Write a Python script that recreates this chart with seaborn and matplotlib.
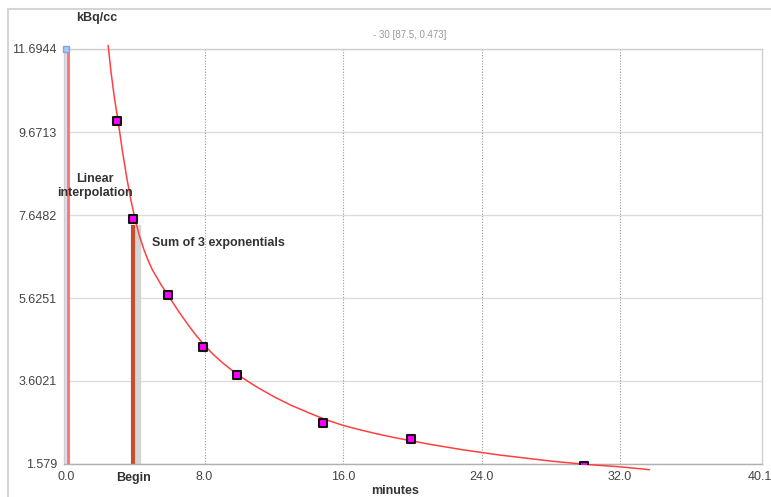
import matplotlib
matplotlib.use("Agg")
import matplotlib.pyplot as plt
import seaborn as sns
import pandas as pd
from matplotlib.patches import Rectangle

# measured samples (minutes, kBq/cc)
sample_t = [2.95, 3.87, 5.9, 7.9, 9.9, 14.85, 19.9, 29.9]
sample_v = [9.94, 7.56, 5.70, 4.44, 3.76, 2.59, 2.19, 1.54]

# fitted curve: sum of 3 exponentials
fit_t = [2.43, 2.6, 2.8, 3.0, 3.25, 3.5, 3.75, 4.0, 4.25, 4.5, 4.75, 5.0,
         5.5, 6.0, 6.5, 7.0, 7.5, 8.0, 8.5, 9.0, 9.5, 10.0, 11.0, 12.0, 13.0,
         14.0, 15.0, 16.0, 17.0, 18.0, 19.0, 20.0, 21.0, 22.0, 23.0, 24.0,
         25.0, 26.0, 27.0, 28.0, 29.0, 30.0, 31.0, 32.0, 33.0, 33.7]
fit_v = [11.78, 11.12, 10.48, 9.95, 9.22, 8.57, 8.0, 7.52, 7.12, 6.8, 6.53,
         6.3, 5.94, 5.62, 5.3, 5.0, 4.72, 4.47, 4.25, 4.06, 3.89, 3.73, 3.46,
         3.22, 3.01, 2.83, 2.66, 2.52, 2.41, 2.31, 2.22, 2.14, 2.06, 1.99,
         1.92, 1.86, 1.8, 1.75, 1.7, 1.65, 1.61, 1.57, 1.54, 1.51, 1.47, 1.44]

# linear interpolation segment near t=0
interp_t = [0.1, 0.1]
interp_v = [1.579, 11.6944]

begin_t = 3.87
begin_top = 7.4

xticks = [0.0, 8.0, 16.0, 24.0, 32.0, 40.1]
yticks = [1.579, 3.6021, 5.6251, 7.6482, 9.6713, 11.6944]
ytick_labels = ["1.579", "3.6021", "5.6251", "7.6482", "9.6713", "11.6944"]

sns.set_style("white")
plt.rcParams['font.family'] = ['Liberation Sans', 'DejaVu Sans']

fig = plt.figure(figsize=(7.71, 4.97), dpi=100)
ax = fig.add_axes([64 / 771, 1 - 464 / 497, (762 - 64) / 771, (464 - 49) / 497])

ax.set_xlim(-0.12, 40.2)
ax.set_ylim(1.579, 11.6944)

# grid
for y in yticks:
    ax.axhline(y, color="#dcdcdc", lw=1, zorder=0)
for x in xticks[1:-1]:
    ax.axvline(x, color="#9a9a9a", lw=0.8, ls=(0, (1, 1.5)), zorder=0)

ax.axvspan(-0.12, 0.0, color="#dcdcf2", zorder=1)

# "Begin" marker with shadow
ax.axvspan(begin_t + 0.05, begin_t + 0.4, ymax=(begin_top - 1.579) / (11.6944 - 1.579),
           color="#d5d5d5", zorder=1)
ax.plot([begin_t, begin_t], [1.579, begin_top], color="#c2502e", lw=3, zorder=2,
        solid_capstyle="butt")

fit_df = pd.DataFrame({"t": fit_t, "v": fit_v})
sns.lineplot(data=fit_df, x="t", y="v", ax=ax, color="#ff4040", lw=1.1,
             sort=False, zorder=3, clip_on=False)
ax.plot(interp_t, interp_v, color="#ff7070", lw=2, zorder=3)

pts = pd.DataFrame({"t": sample_t, "v": sample_v})
sns.scatterplot(data=pts, x="t", y="v", ax=ax, marker="s", s=30,
                color="#ff00ff", edgecolor="#151515", linewidth=1.5, zorder=4)

ax.plot([0.0], [11.6944], marker="s", ms=5, color="#a8c8f0", mec="#7fa8e0",
        clip_on=False, zorder=5)

ax.set_xticks(xticks)
ax.set_xticklabels([f"{x:.1f}" for x in xticks])
ax.set_yticks(yticks)
ax.set_yticklabels(ytick_labels)
ax.tick_params(axis="both", labelsize=9, colors="#444444", length=3, width=0.8,
               direction="out", pad=2)
ax.set_xlabel("")
ax.set_ylabel("")
for sp in ax.spines.values():
    sp.set_color("#cfcfcf")
    sp.set_linewidth(1)
ax.spines["bottom"].set_color("#b0b0b0")

ax.text(begin_t, -0.02, "Begin", transform=ax.get_xaxis_transform(),
        ha="center", va="top", fontsize=9, fontweight="bold", color="#333333")
ax.text(1.65, 8.36, "Linear\ninterpolation", ha="center", va="center",
        fontsize=9, fontweight="bold", color="#333333", linespacing=1.2, zorder=6)
ax.text(4.95, 6.97, "Sum of 3 exponentials", ha="left", va="center",
        fontsize=9, fontweight="bold", color="#333333", zorder=6)

fig.text(97 / 771, 1 - 18 / 497, "kBq/cc", ha="center", va="center",
         fontsize=9, fontweight="bold", color="#333333")
fig.text(410 / 771, 1 - 35 / 497, "- 30 [87.5, 0.473]", ha="center", va="center",
         fontsize=7, color="#999999")
fig.text(395 / 771, 0.0, "minutes", ha="center", va="bottom",
         fontsize=9, fontweight="bold", color="#333333")

fig.add_artist(Rectangle((7.5 / 771, -0.1), 2, 1 - 9 / 497 + 0.1,
                         transform=fig.transFigure, fill=False,
                         ec="#d4d4d4", lw=1.5))

fig.savefig("out.png", dpi=100)
